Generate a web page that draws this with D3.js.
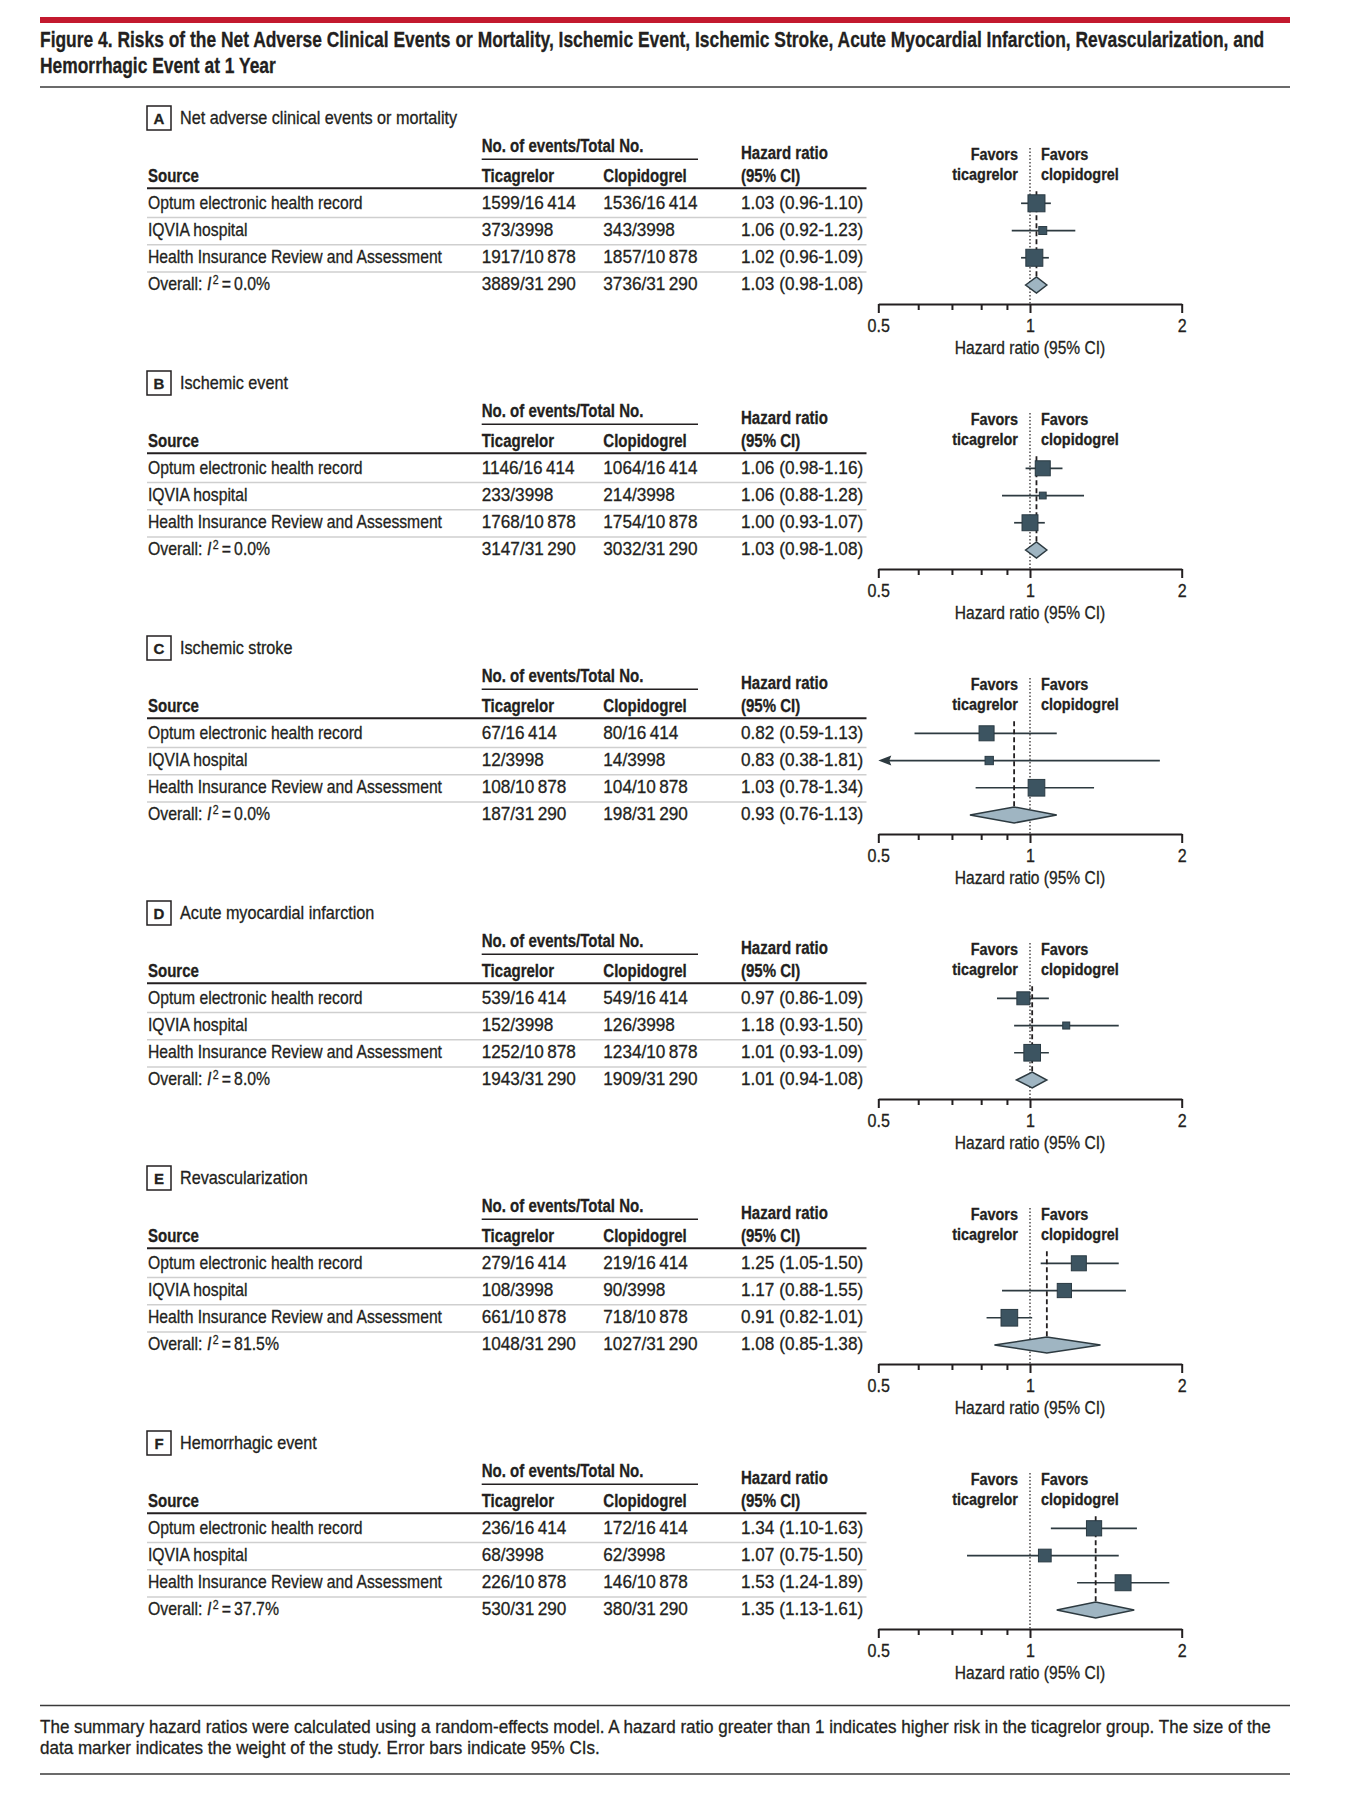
<!DOCTYPE html>
<html>
<head>
<meta charset="utf-8">
<script src="https://cdn.jsdelivr.net/npm/d3@7"></script>
<style>
  body { margin: 0; background: #fff; }
  svg { display: block; font-family: "Liberation Sans", Arial, sans-serif; }
  text { fill: #231f20; paint-order: stroke; stroke: #231f20; stroke-width: 0.3px; }
</style>
</head>
<body>
<svg id="chart" width="1350" height="1800"></svg>
<script>
// ---- data ----
const panelLetters = ["A", "B", "C", "D", "E", "F"];
const panelTitles = [
  "Net adverse clinical events or mortality",
  "Ischemic event",
  "Ischemic stroke",
  "Acute myocardial infarction",
  "Revascularization",
  "Hemorrhagic event"
];
const sources = [
  "Optum electronic health record",
  "IQVIA hospital",
  "Health Insurance Review and Assessment"
];
// last entry of each row = overall
const totals = [16414, 3998, 10878, 31290];
const ticagrelorEvents = [
  [1599, 373, 1917, 3889],
  [1146, 233, 1768, 3147],
  [67, 12, 108, 187],
  [539, 152, 1252, 1943],
  [279, 108, 661, 1048],
  [236, 68, 226, 530]
];
const clopidogrelEvents = [
  [1536, 343, 1857, 3736],
  [1064, 214, 1754, 3032],
  [80, 14, 104, 198],
  [549, 126, 1234, 1909],
  [219, 90, 718, 1027],
  [172, 62, 146, 380]
];
const hazardRatios = [
  [1.03, 1.06, 1.02, 1.03],
  [1.06, 1.06, 1.0, 1.03],
  [0.82, 0.83, 1.03, 0.93],
  [0.97, 1.18, 1.01, 1.01],
  [1.25, 1.17, 0.91, 1.08],
  [1.34, 1.07, 1.53, 1.35]
];
const ciLower = [
  [0.96, 0.92, 0.96, 0.98],
  [0.98, 0.88, 0.93, 0.98],
  [0.59, 0.38, 0.78, 0.76],
  [0.86, 0.93, 0.93, 0.94],
  [1.05, 0.88, 0.82, 0.85],
  [1.1, 0.75, 1.24, 1.13]
];
const ciUpper = [
  [1.1, 1.23, 1.09, 1.08],
  [1.16, 1.28, 1.07, 1.08],
  [1.13, 1.81, 1.34, 1.13],
  [1.09, 1.5, 1.09, 1.08],
  [1.5, 1.55, 1.01, 1.38],
  [1.63, 1.5, 1.89, 1.61]
];
// estimated study weights (from marker size)
const markerWeights = [
  [50, 11, 50],
  [39, 8, 44],
  [39, 12, 48],
  [29, 8.5, 48],
  [39, 35, 48],
  [40, 28, 44]
];
const heterogeneity = ["0.0", "0.0", "0.0", "8.0", "81.5", "37.7"];
const majorTicks = [0.5, 1, 2];
const minorTicks = [0.6, 0.7, 0.8, 0.9];

const titleLines = [
  "Figure 4. Risks of the Net Adverse Clinical Events or Mortality, Ischemic Event, Ischemic Stroke, Acute Myocardial Infarction, Revascularization, and",
  "Hemorrhagic Event at 1 Year"
];
const footnoteLines = [
  "The summary hazard ratios were calculated using a random-effects model. A hazard ratio greater than 1 indicates higher risk in the ticagrelor group. The size of the",
  "data marker indicates the weight of the study. Error bars indicate 95% CIs."
];

// ---- drawing ----
const svg = d3.select("#chart");
const ink = "#231f20";
const markFill = "#3c5461";
const markStroke = "#2a3a43";
const lineInk = "#2d3a40";

// narrow the glyphs around the text's anchor to mimic the condensed journal face
function squeeze(sel, k) {
  sel.each(function () {
    const t = d3.select(this);
    const x0 = +t.attr("x") || 0;
    t.attr("transform", `translate(${x0 * (1 - k)},0) scale(${k},1)`);
  });
}

const fmtN = (n) => {
  const s = String(n);
  return n >= 10000 ? s.slice(0, -3) + "\u2009" + s.slice(-3) : s;
};
const f2 = d3.format(".2f");

svg.append("rect").attr("width", 1350).attr("height", 1800).attr("fill", "#fff");

// header
svg.append("rect").attr("x", 40).attr("y", 17).attr("width", 1250).attr("height", 6).attr("fill", "#c3192f");
svg
  .selectAll(".title")
  .data(titleLines)
  .enter()
  .append("text")
  .attr("class", "title")
  .attr("x", 40)
  .attr("y", (d, i) => 46.7 + i * 26)
  .style("font-size", "22px")
  .style("font-weight", "bold")
  .text((d) => d)
  .call(squeeze, 0.792);
svg.append("line").attr("x1", 40).attr("x2", 1290).attr("y1", 87).attr("y2", 87)
  .attr("stroke", "#3a3a3a").attr("stroke-width", 1.5);

const x = d3.scaleLog().domain([0.5, 2]).range([878.3, 1181.7]);
const markSize = d3.scaleSqrt().domain([0, 50]).range([0, 17]);

const panelStep = 265.0;
const rowY0 = 203.3, rowStep = 27.23;
const col = { src: 148, tic: 481.7, clo: 603.3, hr: 741 };
const tableLeft = 147, tableRight = 866.5;

panelLetters.forEach((letter, p) => {
  const g = svg.append("g").attr("transform", `translate(0, ${p * panelStep})`);
  const rowY = (i) => rowY0 + i * rowStep;

  // panel label
  g.append("rect").attr("x", 147).attr("y", 106).attr("width", 24).attr("height", 24)
    .attr("fill", "#fff").attr("stroke", ink).attr("stroke-width", 1.5);
  g.append("text").attr("x", 159).attr("y", 124).attr("text-anchor", "middle")
    .style("font-size", "15px").style("font-weight", "bold").text(letter);
  g.append("text").attr("x", 180).attr("y", 124).style("font-size", "18px")
    .text(panelTitles[p]).call(squeeze, 0.9);

  // column heads
  const heads = [
    { t: "No. of events/Total No.", x: col.tic, y: 152 },
    { t: "Source", x: col.src, y: 181.7 },
    { t: "Ticagrelor", x: col.tic, y: 181.7 },
    { t: "Clopidogrel", x: col.clo, y: 181.7 },
    { t: "Hazard ratio", x: col.hr, y: 159 },
    { t: "(95% CI)", x: col.hr, y: 181.7 }
  ];
  g.selectAll(".head").data(heads).enter().append("text")
    .attr("x", (d) => d.x).attr("y", (d) => d.y)
    .style("font-size", "18px").style("font-weight", "bold")
    .text((d) => d.t).call(squeeze, 0.835);
  g.append("line").attr("x1", col.tic).attr("x2", 698).attr("y1", 159.3).attr("y2", 159.3)
    .attr("stroke", ink).attr("stroke-width", 1.5);
  g.append("line").attr("x1", tableLeft).attr("x2", tableRight).attr("y1", 188.3).attr("y2", 188.3)
    .attr("stroke", ink).attr("stroke-width", 2);

  // row separators
  g.selectAll(".sep").data([0, 1, 2]).enter().append("line")
    .attr("x1", tableLeft).attr("x2", tableRight)
    .attr("y1", (i) => (rowY(i) + rowY(i + 1)) / 2 + 0.5)
    .attr("y2", (i) => (rowY(i) + rowY(i + 1)) / 2 + 0.5)
    .attr("stroke", "#cfcfcf").attr("stroke-width", 1.5);

  // table cells
  const rows = d3.range(4).map((i) => ({
    i,
    tic: fmtN(ticagrelorEvents[p][i]) + "/" + fmtN(totals[i]),
    clo: fmtN(clopidogrelEvents[p][i]) + "/" + fmtN(totals[i]),
    hr: `${f2(hazardRatios[p][i])} (${f2(ciLower[p][i])}-${f2(ciUpper[p][i])})`
  }));
  const cell = (key, xpos) =>
    g.selectAll(`.c-${key}`).data(rows).enter().append("text")
      .attr("x", xpos).attr("y", (d) => rowY(d.i) + 5.3)
      .style("font-size", "18px").text((d) => d[key]).call(squeeze, 0.955);
  cell("tic", col.tic);
  cell("clo", col.clo);
  cell("hr", col.hr);

  g.selectAll(".src").data(sources).enter().append("text")
    .attr("x", col.src).attr("y", (d, i) => rowY(i) + 5.3)
    .style("font-size", "18px").text((d) => d).call(squeeze, 0.873);
  const ov = g.append("text").attr("x", col.src).attr("y", rowY(3) + 5.3).style("font-size", "18px");
  ov.append("tspan").text("Overall: ");
  ov.append("tspan").style("font-style", "italic").text("I");
  ov.append("tspan").attr("dx", 1.5).attr("dy", -6).style("font-size", "12px").text("2");
  ov.append("tspan").attr("dy", 6).text(`\u2009=\u2009${heterogeneity[p]}%`);
  ov.call(squeeze, 0.88);

  // favors labels
  const fav = [
    { t: "Favors", x: x(1) - 12, y: 160, a: "end" },
    { t: "ticagrelor", x: x(1) - 12, y: 180, a: "end" },
    { t: "Favors", x: x(1) + 11, y: 160, a: "start" },
    { t: "clopidogrel", x: x(1) + 11, y: 180, a: "start" }
  ];
  g.selectAll(".fav").data(fav).enter().append("text")
    .attr("x", (d) => d.x).attr("y", (d) => d.y).attr("text-anchor", (d) => d.a)
    .style("font-size", "17px").style("font-weight", "bold")
    .text((d) => d.t).call(squeeze, 0.85);

  // reference line at HR = 1
  g.append("line").attr("x1", x(1)).attr("x2", x(1)).attr("y1", 148).attr("y2", 304)
    .attr("stroke", ink).attr("stroke-width", 1.2).attr("stroke-dasharray", "1.5,2");

  // axis
  const axisG = g.append("g").attr("transform", "translate(0, 304)");
  axisG.call(d3.axisBottom(x).tickValues(majorTicks).tickFormat((d) => d).tickSize(9).tickSizeOuter(0).tickPadding(7));
  const minorG = g.append("g").attr("transform", "translate(0, 304)");
  minorG.call(d3.axisBottom(x).tickValues(minorTicks).tickFormat("").tickSize(6).tickSizeOuter(0));
  minorG.select(".domain").remove();
  [axisG, minorG].forEach((a) => {
    a.selectAll(".domain").attr("stroke", ink).attr("stroke-width", 2);
    a.selectAll(".tick line").attr("stroke", ink).attr("stroke-width", 2);
  });
  axisG.selectAll(".tick text").style("font-size", "17.5px").style("font-family", "inherit")
    .attr("fill", ink).call(squeeze, 0.92);
  g.append("text").attr("x", x(1)).attr("y", 354).attr("text-anchor", "middle")
    .style("font-size", "17.5px").text("Hazard ratio (95% CI)").call(squeeze, 0.89);

  // confidence intervals of studies
  const studies = d3.range(3).map((i) => ({
    i, hr: hazardRatios[p][i], lo: ciLower[p][i], hi: ciUpper[p][i], w: markerWeights[p][i]
  }));
  const lo0 = x.domain()[0];
  g.selectAll(".ci").data(studies).enter().append("line")
    .attr("x1", (d) => x(Math.max(d.lo, lo0)) + (d.lo < lo0 ? 8 : 0))
    .attr("x2", (d) => x(d.hi))
    .attr("y1", (d) => rowY(d.i)).attr("y2", (d) => rowY(d.i))
    .attr("stroke", lineInk).attr("stroke-width", 1.7);
  g.selectAll(".arrow").data(studies.filter((d) => d.lo < lo0)).enter().append("path")
    .attr("d", (d) => {
      const tx = x(lo0), ty = rowY(d.i);
      return `M${tx},${ty}L${tx + 13},${ty - 5}L${tx + 11},${ty}L${tx + 13},${ty + 5}Z`;
    })
    .attr("fill", lineInk);

  // overall estimate line
  const ovHr = hazardRatios[p][3];
  g.append("line").attr("x1", x(ovHr)).attr("x2", x(ovHr))
    .attr("y1", rowY(0) - 12).attr("y2", rowY(3) - 8)
    .attr("stroke", ink).attr("stroke-width", 1.8).attr("stroke-dasharray", "5,3");

  // study markers
  g.selectAll(".mark").data(studies).enter().append("rect")
    .attr("x", (d) => x(d.hr) - markSize(d.w) / 2)
    .attr("y", (d) => rowY(d.i) - markSize(d.w) / 2)
    .attr("width", (d) => markSize(d.w)).attr("height", (d) => markSize(d.w))
    .attr("fill", markFill).attr("stroke", markStroke).attr("stroke-width", 1);

  // pooled diamond
  const cy = rowY(3);
  g.append("path")
    .attr("d", `M${x(ciLower[p][3])},${cy}L${x(ovHr)},${cy - 8}L${x(ciUpper[p][3])},${cy}L${x(ovHr)},${cy + 8}Z`)
    .attr("fill", "#9fb5c2").attr("stroke", lineInk).attr("stroke-width", 1.5);
});

// footnote
svg.append("line").attr("x1", 40).attr("x2", 1290).attr("y1", 1705.5).attr("y2", 1705.5)
  .attr("stroke", "#3a3a3a").attr("stroke-width", 1.5);
svg.selectAll(".foot").data(footnoteLines).enter().append("text")
  .attr("x", 40).attr("y", (d, i) => 1733 + i * 21)
  .style("font-size", "19px").text((d) => d).call(squeeze, 0.898);
svg.append("line").attr("x1", 40).attr("x2", 1290).attr("y1", 1774).attr("y2", 1774)
  .attr("stroke", "#3a3a3a").attr("stroke-width", 1.5);
</script>
</body>
</html>
